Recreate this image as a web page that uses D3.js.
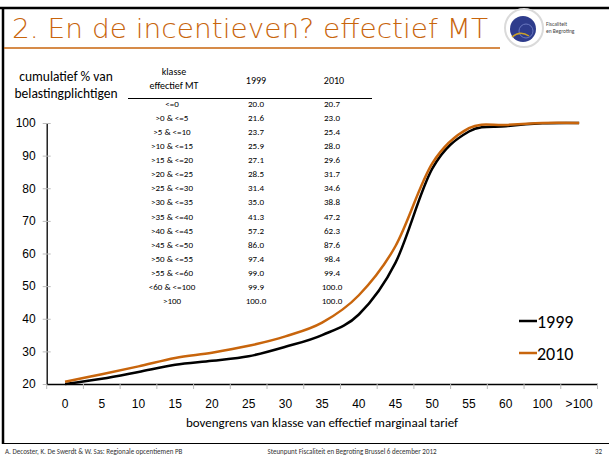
<!DOCTYPE html>
<html>
<head>
<meta charset="utf-8">
<script src="https://cdn.jsdelivr.net/npm/d3@7.9.0/dist/d3.min.js"></script>
<style>
  body { margin: 0; background: #fff; }
  svg { display: block; font-family: Carlito, Calibri, Lato, "Open Sans", sans-serif; }
</style>
</head>
<body>
<div id="chart"></div>
<script>
// ---------------- data ----------------
const categories = ["0", "5", "10", "15", "20", "25", "30", "35", "40", "45", "50", "55", "60", "100", ">100"];
const classLabels = ["<=0", ">0 & <=5", ">5 & <=10", ">10 & <=15", ">15 & <=20", ">20 & <=25", ">25 & <=30",
  ">30 & <=35", ">35 & <=40", ">40 & <=45", ">45 & <=50", ">50 & <=55", ">55 & <=60", "<60 & <=100", ">100"];
const values1999 = [20.0, 21.6, 23.7, 25.9, 27.1, 28.5, 31.4, 35.0, 41.3, 57.2, 86.0, 97.4, 99.0, 99.9, 100.0];
const values2010 = [20.7, 23.0, 25.4, 28.0, 29.6, 31.7, 34.6, 38.8, 47.2, 62.3, 87.6, 98.4, 99.4, 100.0, 100.0];
const yTicks = [20, 30, 40, 50, 60, 70, 80, 90, 100];

const orange = "#c8650c";
const width = 609, height = 462;

const svg = d3.select("#chart").append("svg")
  .attr("width", width).attr("height", height);

// ---------------- slide frame ----------------
svg.append("line").attr("x1", 0).attr("x2", width).attr("y1", 8).attr("y2", 8)
  .attr("stroke", "#000").attr("stroke-width", 2.5);
svg.append("line").attr("x1", 3).attr("x2", 3).attr("y1", 7).attr("y2", 444)
  .attr("stroke", "#000").attr("stroke-width", 2.5);
svg.append("line").attr("x1", 3).attr("x2", width).attr("y1", 443.5).attr("y2", 443.5)
  .attr("stroke", "#000").attr("stroke-width", 1);

svg.append("text").attr("x", 12).attr("y", 38)
  .attr("font-family", "'DejaVu Sans', sans-serif")
  .attr("font-weight", 300)
  .attr("font-size", 26).attr("fill", orange)
  .attr("textLength", 476).attr("lengthAdjust", "spacingAndGlyphs")
  .text("2. En de incentieven? effectief MT");
svg.append("line").attr("x1", 4).attr("x2", 500).attr("y1", 48).attr("y2", 48)
  .attr("stroke", orange).attr("stroke-width", 1.5);

// logo
const logo = svg.append("g").attr("transform", "translate(524,28)");
logo.append("circle").attr("r", 19).attr("fill", "none").attr("stroke", "#dadada").attr("stroke-width", 2);
logo.append("circle").attr("cx", -1).attr("cy", 1).attr("r", 13).attr("fill", "#2e3c8c");
logo.append("circle").attr("cx", 2).attr("cy", 3).attr("r", 7).attr("fill", "none").attr("stroke", "#6a78c0").attr("stroke-width", 1);
logo.append("path").attr("d", "M-12,9 Q-4,2 5,8").attr("fill", "none").attr("stroke", "#c9a02a").attr("stroke-width", 1.5);
logo.append("text").attr("x", 22).attr("y", -2).attr("font-size", 5.5).attr("fill", "#444").text("Fiscaliteit");
logo.append("text").attr("x", 22).attr("y", 5).attr("font-size", 5.5).attr("fill", "#444").text("en Begroting");

// ---------------- scales ----------------
const x = d3.scaleBand().domain(categories).range([46.7, 597.5]);
const y = d3.scaleLinear().domain([20, 100]).range([384, 123]);
const cx = c => x(c) + x.bandwidth() / 2;

// axes
const yAxis = svg.append("g").attr("transform", "translate(46.7,0)")
  .call(d3.axisLeft(y).tickValues(yTicks).tickSize(0).tickPadding(11));
yAxis.select(".domain").attr("stroke", "#000").attr("stroke-width", 1.3);
yAxis.selectAll(".tick text").attr("font-size", 12).attr("fill", "#000");
yAxis.selectAll(".tick").append("line").attr("x1", -4).attr("x2", 4).attr("stroke", "#bbb");

const xAxis = svg.append("g").attr("transform", "translate(0,384)")
  .call(d3.axisBottom(x).tickSize(0).tickPadding(15));
xAxis.select(".domain").attr("stroke", "#000").attr("stroke-width", 1.3);
xAxis.selectAll(".tick text").attr("font-size", 12).attr("fill", "#000");
svg.append("g").selectAll("line")
  .data(categories.concat([null]))
  .join("line")
  .attr("x1", (d, i) => x.range()[0] + i * x.bandwidth())
  .attr("x2", (d, i) => x.range()[0] + i * x.bandwidth())
  .attr("y1", 384).attr("y2", 389)
  .attr("stroke", "#bbb");

svg.append("text").attr("x", 322).attr("y", 427).attr("text-anchor", "middle")
  .attr("font-size", 13).text("bovengrens van klasse van effectief marginaal tarief");
svg.append("text").attr("x", 66).attr("y", 81).attr("text-anchor", "middle")
  .attr("font-size", 13.5).text("cumulatief % van");
svg.append("text").attr("x", 66).attr("y", 98).attr("text-anchor", "middle")
  .attr("font-size", 13.5).text("belastingplichtigen");

// ---------------- lines ----------------
const line = d3.line()
  .x((d, i) => cx(categories[i]))
  .y(d => y(d))
  .curve(d3.curveCardinal.tension(0));

svg.append("path").datum(values1999).attr("d", line)
  .attr("fill", "none").attr("stroke", "#000").attr("stroke-width", 2.5);
svg.append("path").datum(values2010).attr("d", line)
  .attr("fill", "none").attr("stroke", orange).attr("stroke-width", 2.5);

// legend
const legend = [["1999", "#000", 321], ["2010", orange, 353]];
legend.forEach(([name, col, ly]) => {
  svg.append("line").attr("x1", 519).attr("x2", 537).attr("y1", ly).attr("y2", ly)
    .attr("stroke", col).attr("stroke-width", 2.5);
  svg.append("text").attr("x", 537).attr("y", ly + 6.5).attr("font-size", 18).text(name);
});

// ---------------- table ----------------
const table = svg.append("g").attr("font-size", 9).attr("fill", "#000");
table.append("text").attr("x", 174).attr("y", 75).attr("text-anchor", "middle").attr("font-size", 10).text("klasse");
table.append("text").attr("x", 174).attr("y", 89).attr("text-anchor", "middle").attr("font-size", 10).text("effectief MT");
table.append("text").attr("x", 256).attr("y", 84).attr("text-anchor", "middle").attr("font-size", 10).text("1999");
table.append("text").attr("x", 334).attr("y", 84).attr("text-anchor", "middle").attr("font-size", 10).text("2010");
table.append("line").attr("x1", 128).attr("x2", 372).attr("y1", 98.5).attr("y2", 98.5)
  .attr("stroke", "#000").attr("stroke-width", 1);

const rowY = i => 107 + i * 14.07;
classLabels.forEach((lab, i) => {
  table.append("text").attr("x", 172).attr("y", rowY(i)).attr("text-anchor", "middle").text(lab);
  table.append("text").attr("x", 256).attr("y", rowY(i)).attr("text-anchor", "middle").text(values1999[i].toFixed(1));
  table.append("text").attr("x", 332).attr("y", rowY(i)).attr("text-anchor", "middle").text(values2010[i].toFixed(1));
});

// ---------------- footer ----------------
svg.append("text").attr("x", 5).attr("y", 454).attr("font-size", 7).attr("fill", "#333")
  .text("A. Decoster, K. De Swerdt & W. Sas: Regionale opcentiemen PB");
svg.append("text").attr("x", 352).attr("y", 454).attr("text-anchor", "middle").attr("font-size", 7).attr("fill", "#333")
  .text("Steunpunt Fiscaliteit en Begroting Brussel 6 december 2012");
svg.append("text").attr("x", 602).attr("y", 454).attr("text-anchor", "end").attr("font-size", 7).attr("fill", "#333")
  .text("32");
</script>
</body>
</html>
